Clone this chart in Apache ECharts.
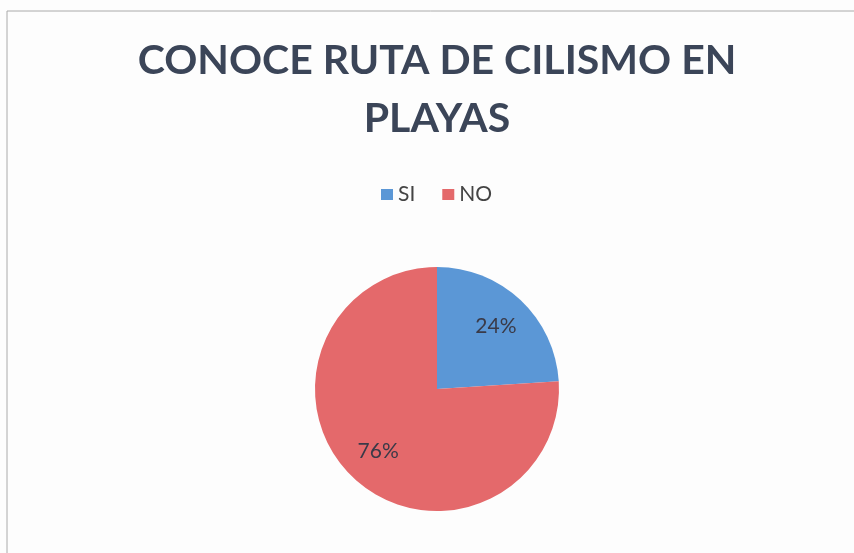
<!DOCTYPE html>
<html>
<head>
<meta charset="utf-8">
<script src="https://cdn.jsdelivr.net/npm/echarts@6/dist/echarts.min.js"></script>
<style>
    html, body { margin: 0; padding: 0; background: #fdfdfd; }
    #chart { width: 854px; height: 553px; }
</style>
</head>
<body>
<div id="chart"></div>
<script>
var chartTitle = "CONOCE RUTA DE CILISMO EN\nPLAYAS";
var categories = ["SI", "NO"];
var values = [24, 76];
var colors = ["#5b97d6", "#e4696b"];

var pieData = categories.map(function (name, i) {
    return { name: name, value: values[i], itemStyle: { color: colors[i] } };
});

var chart = echarts.init(document.getElementById("chart"));

var option = {
    backgroundColor: "#fdfdfd",
    animation: false,
    title: {
        text: chartTitle,
        left: 437,
        top: 32,
        padding: 0,
        textAlign: "center",
        textStyle: {
            fontFamily: "Lato",
            fontWeight: "bold",
            fontSize: 41,
            lineHeight: 58,
            color: "#3b4558"
        }
    },
    legend: {
        data: categories,
        top: 179,
        left: 376,
        icon: "rect",
        itemWidth: 12,
        itemHeight: 11,
        itemGap: 27,
        textStyle: {
            fontFamily: "Lato",
            fontSize: 21,
            color: "#444"
        }
    },
    graphic: [
        {
            type: "polyline",
            shape: { points: [[7, 553], [7, 11], [854, 11]] },
            style: { stroke: "#aaa", lineWidth: 1, fill: null },
            silent: true
        }
    ],
    series: [
        {
            type: "pie",
            center: [437, 389],
            radius: [0, 122],
            startAngle: 90,
            clockwise: true,
            label: { show: false },
            labelLine: { show: false },
            data: pieData
        },
        {
            // transparent ring so the labels sit at about 0.68 of the radius
            type: "pie",
            center: [437, 389],
            radius: [44, 122],
            startAngle: 90,
            clockwise: true,
            silent: true,
            itemStyle: { color: "transparent" },
            label: {
                show: true,
                position: "inside",
                formatter: "{c}%",
                fontFamily: "Lato",
                fontSize: 21,
                color: "#3a3a48"
            },
            labelLine: { show: false },
            data: categories.map(function (name, i) {
                return { name: name, value: values[i] };
            })
        }
    ]
};

chart.setOption(option);
</script>
</body>
</html>
